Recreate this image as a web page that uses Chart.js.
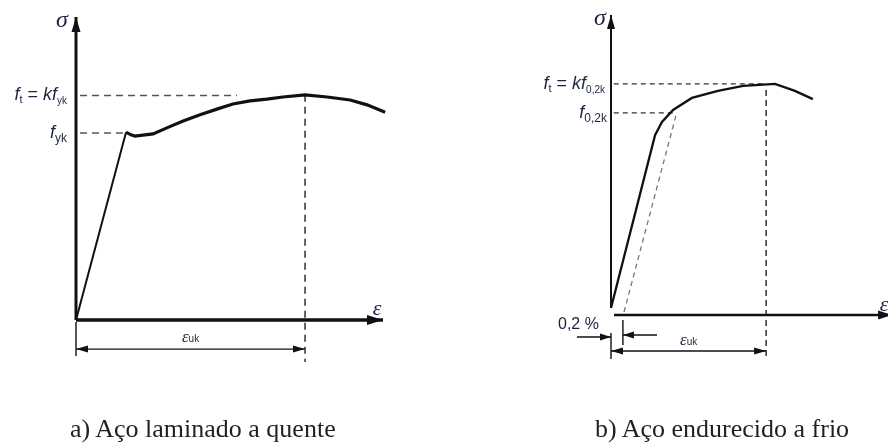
<!DOCTYPE html>
<html>
<head>
<meta charset="utf-8">
<script src="https://cdn.jsdelivr.net/npm/chart.js@4.4.1/dist/chart.umd.min.js"></script>
<style>
  html, body { margin: 0; padding: 0; background: #fff; }
  #wrap { position: relative; width: 888px; height: 445px; overflow: hidden; }
  canvas { position: absolute; top: 0; }
  #chartA { left: 0; }
  #chartB { left: 444px; }
  .caption {
    position: absolute; top: 416px;
    font-family: "Liberation Serif", "Times New Roman", serif;
    font-size: 26px; line-height: 1; color: #231f20; white-space: nowrap;
  }
</style>
</head>
<body>
<div id="wrap">
  <canvas id="chartA" width="444" height="445"></canvas>
  <canvas id="chartB" width="444" height="445"></canvas>
  <div class="caption" style="left:70px">a) Aço laminado a quente</div>
  <div class="caption" style="left:595px">b) Aço endurecido a frio</div>
</div>
<script>
// Values, in arbitrary strain / stress units (axes run 0..10)
const axisMax = 10;

// a) hot rolled steel
const epsA = [0, 1.63, 1.79, 1.92, 2.51, 2.96, 3.49, 4.04, 4.59, 5.11, 5.67, 6.22, 6.74, 7.46, 8.18, 8.93, 9.48, 10.07];
const sigA = [0, 6.20, 6.11, 6.07, 6.14, 6.34, 6.57, 6.77, 6.96, 7.13, 7.23, 7.29, 7.36, 7.43, 7.36, 7.26, 7.10, 6.86];
const ftA = 7.41;
const fykA = 6.17;
const euA = 7.46;

// b) cold worked steel
const epsB = [0, 1.59, 1.84, 2.24, 2.92, 3.86, 4.77, 5.92, 6.64, 7.29];
const sigB = [0, 5.90, 6.35, 6.76, 7.17, 7.41, 7.58, 7.65, 7.41, 7.13];
const ftB = 7.65;
const f02B = 6.66;
const euB = 5.60;
const e02B = 0.43;
const offsetEpsB = [0.47, 2.35];
const offsetSigB = [-0.14, 6.59];

// levels of the dimension lines under the x axis
const dimA = -0.96;
const dimB = -1.47;
const dim02B = -0.99;

const SANS = '"Liberation Sans", Arial, sans-serif';
const SERIF = '"Liberation Serif", "Times New Roman", serif';
const INK = '#1d2440';

function seg(xs, ys, style) {
    return Object.assign({
        data: xs.map((x, i) => ({ x: x, y: ys[i] })),
        pointRadius: 0,
        clip: false,
        fill: false,
        tension: 0,
        borderColor: '#111',
        borderWidth: 1.4
    }, style);
}

// arrow heads at the ends of flagged datasets
const arrowPlugin = {
    id: 'arrowHeads',
    afterDatasetsDraw(chart) {
        const ctx = chart.ctx;
        chart.data.datasets.forEach((ds, i) => {
            if (!ds.arrows) return;
            const pts = chart.getDatasetMeta(i).data;
            const n = pts.length;
            const size = ds.arrowSize || [12, 3.5];
            ds.arrows.forEach(end => {
                const tip = end === 'end' ? pts[n - 1] : pts[0];
                const prev = end === 'end' ? pts[n - 2] : pts[1];
                const ang = Math.atan2(tip.y - prev.y, tip.x - prev.x);
                ctx.save();
                ctx.fillStyle = ds.borderColor;
                ctx.translate(tip.x, tip.y);
                ctx.rotate(ang);
                ctx.beginPath();
                ctx.moveTo(0, 0);
                ctx.lineTo(-size[0], -size[1]);
                ctx.lineTo(-size[0], size[1]);
                ctx.closePath();
                ctx.fill();
                ctx.restore();
            });
        });
    }
};

function drawRich(ctx, parts, x, y, align) {
    let w = 0;
    parts.forEach(p => { ctx.font = p[1]; w += ctx.measureText(p[0]).width; });
    let cx = align === 'right' ? x - w : (align === 'center' ? x - w / 2 : x);
    parts.forEach(p => {
        ctx.font = p[1];
        ctx.fillText(p[0], cx, y + (p[2] || 0));
        cx += ctx.measureText(p[0]).width;
    });
}

function textPlugin(items) {
    return {
        id: 'texts',
        afterDraw(chart) {
            const ctx = chart.ctx;
            const xs = chart.scales.x, ys = chart.scales.y;
            ctx.save();
            ctx.fillStyle = INK;
            ctx.textAlign = 'left';
            ctx.textBaseline = 'alphabetic';
            items.forEach(it => {
                drawRich(ctx, it.parts, xs.getPixelForValue(it.x) + it.dx, ys.getPixelForValue(it.y) + it.dy, it.align);
            });
            ctx.restore();
        }
    };
}

function baseOptions(padding) {
    return {
        responsive: false,
        animation: false,
        events: [],
        layout: { padding: padding },
        plugins: { legend: { display: false }, tooltip: { enabled: false } },
        scales: {
            x: { type: 'linear', min: 0, max: axisMax, display: false },
            y: { type: 'linear', min: 0, max: axisMax, display: false }
        }
    };
}

const dashGrey = { borderDash: [7, 5], borderColor: '#555', borderWidth: 1.5 };
const dashDark = { borderDash: [7, 5], borderColor: '#222', borderWidth: 1.4 };

// ---- chart a) ----
new Chart(document.getElementById('chartA'), {
    type: 'line',
    data: {
        datasets: [
            seg(epsA, sigA, { borderWidth: 3, segment: { borderWidth: c => c.p0DataIndex === 0 ? 2 : 3.2 } }),
            seg([0, 0], [0, axisMax], { borderWidth: 3, arrows: ['end'], arrowSize: [15, 4.5] }),
            seg([0, axisMax], [0, 0], { borderWidth: 3.5, arrows: ['end'], arrowSize: [16, 5] }),
            seg([0.13, 5.24], [ftA, ftA], dashGrey),
            seg([0.13, 1.53], [fykA, fykA], dashGrey),
            seg([euA, euA], [7.43, -1.39], dashDark),
            seg([0, euA], [dimA, dimA], { arrows: ['start', 'end'], arrowSize: [12, 3.5] }),
            seg([0, 0], [-0.07, -1.19])
        ]
    },
    options: baseOptions({ left: 76, right: 61, top: 17, bottom: 125 }),
    plugins: [arrowPlugin, textPlugin([
        { x: 0, y: axisMax, dx: -14, dy: 10, align: 'center', parts: [['σ', 'italic 24px ' + SERIF]] },
        { x: axisMax, y: 0, dx: -6, dy: -5, align: 'center', parts: [['ε', 'italic 22px ' + SERIF]] },
        { x: 0, y: ftA, dx: -9, dy: 5, align: 'right', parts: [
            ['f', 'italic 18px ' + SANS], ['t', '11px ' + SANS, 3], [' = ', '18px ' + SANS],
            ['k', 'italic 18px ' + SANS], ['f', 'italic 18px ' + SANS], ['yk', '10px ' + SANS, 4]] },
        { x: 0, y: fykA, dx: -9, dy: 5, align: 'right', parts: [
            ['f', 'italic 18px ' + SANS], ['yk', '12px ' + SANS, 4]] },
        { x: euA / 2, y: dimA, dx: 0, dy: -7, align: 'center', parts: [
            ['ε', 'italic 17px ' + SERIF], ['uk', '10px ' + SANS]] }
    ])]
});

// ---- chart b) ----
new Chart(document.getElementById('chartB'), {
    type: 'line',
    data: {
        datasets: [
            seg(epsB, sigB, { borderWidth: 2.3 }),
            seg([0, 0], [0, axisMax], { borderWidth: 2, arrows: ['end'], arrowSize: [14, 4] }),
            seg([0.11, 10.15], [-0.24, -0.24], { borderWidth: 2.5, arrows: ['end'], arrowSize: [14, 4.5] }),
            seg([0.1, 5.6], [ftB, ftB], { borderDash: [5, 4], borderColor: '#333', borderWidth: 1.4 }),
            seg([0.1, 2.24], [f02B, f02B], { borderDash: [5, 4], borderColor: '#333', borderWidth: 1.4 }),
            seg([euB, euB], [7.44, -1.71], { borderDash: [6, 4], borderColor: '#222', borderWidth: 1.4 }),
            seg(offsetEpsB, offsetSigB, { borderDash: [5, 4], borderColor: '#777', borderWidth: 1.3 }),
            seg([0, euB], [dimB, dimB], { arrows: ['start', 'end'], arrowSize: [12, 3.5] }),
            seg([0, 0], [-0.85, -1.74]),
            seg([e02B, e02B], [-0.41, -1.26]),
            seg([-1.23, 0], [dim02B, dim02B], { arrows: ['end'], arrowSize: [11, 3.5] }),
            seg([1.66, e02B], [-0.92, -0.92], { arrows: ['end'], arrowSize: [11, 3.5] })
        ]
    },
    options: baseOptions({ left: 167, right: 0, top: 15, bottom: 137 }),
    plugins: [arrowPlugin, textPlugin([
        { x: 0, y: axisMax, dx: -11, dy: 10, align: 'center', parts: [['σ', 'italic 24px ' + SERIF]] },
        { x: axisMax, y: 0, dx: -4, dy: 3, align: 'center', parts: [['ε', 'italic 22px ' + SERIF]] },
        { x: 0, y: ftB, dx: -6, dy: 5, align: 'right', parts: [
            ['f', 'italic 18px ' + SANS], ['t', '11px ' + SANS, 3], [' = ', '18px ' + SANS],
            ['k', 'italic 18px ' + SANS], ['f', 'italic 18px ' + SANS], ['0,2k', '10px ' + SANS, 4]] },
        { x: 0, y: f02B, dx: -4, dy: 5, align: 'right', parts: [
            ['f', 'italic 18px ' + SANS], ['0,2k', '12px ' + SANS, 4]] },
        { x: 0, y: dim02B, dx: -53, dy: -8, align: 'left', parts: [['0,2 %', '16px ' + SANS]] },
        { x: euB / 2, y: dimB, dx: 0, dy: -6, align: 'center', parts: [
            ['ε', 'italic 17px ' + SERIF], ['uk', '10px ' + SANS]] }
    ])]
});
</script>
</body>
</html>
